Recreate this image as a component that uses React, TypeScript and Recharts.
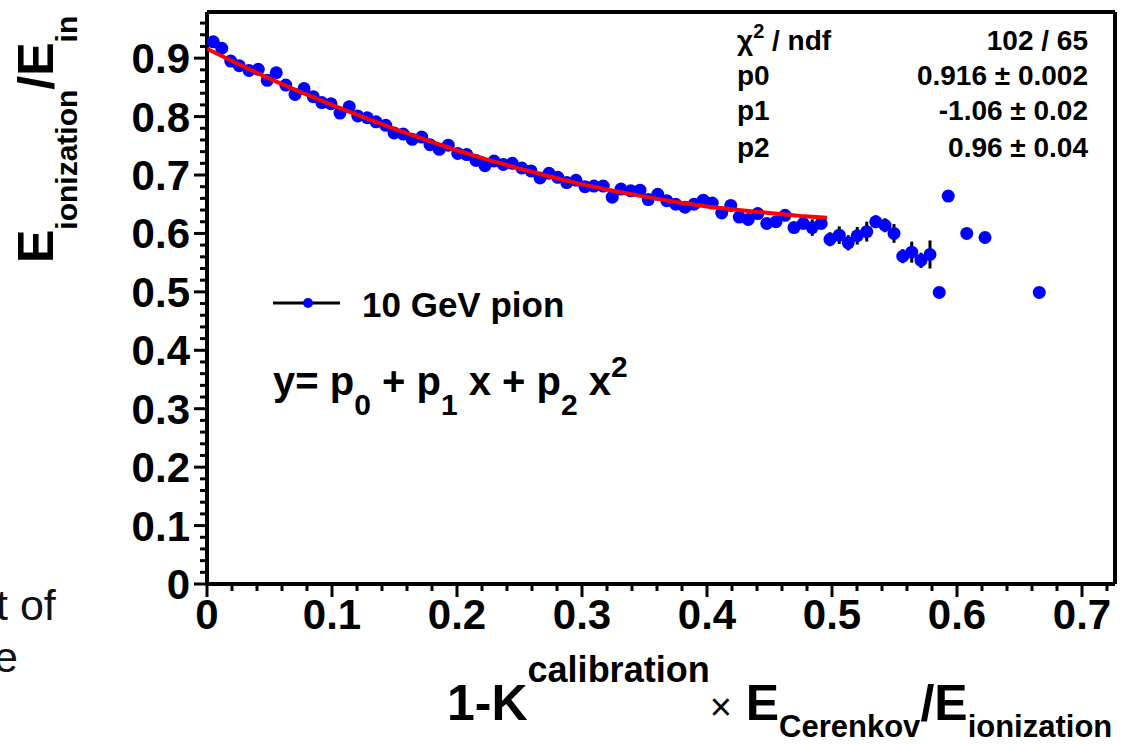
import React from 'react';
import {
  ComposedChart, Scatter, XAxis, YAxis, ErrorBar, ReferenceLine
} from 'recharts';

// measured points: x = 1-K*Ec/Ei, y = Eion/Ein
const pointX = [
  0.0050, 0.0118, 0.0190, 0.0258, 0.0336, 0.0410, 0.0482, 0.0554, 0.0630, 0.0704,
  0.0776, 0.0850, 0.0918, 0.0992, 0.1064, 0.1138, 0.1206, 0.1282, 0.1352, 0.1430,
  0.1496, 0.1570, 0.1642, 0.1718, 0.1784, 0.1858, 0.1930, 0.2006, 0.2078, 0.2152,
  0.2224, 0.2296, 0.2370, 0.2442, 0.2518, 0.2592, 0.2664, 0.2736, 0.2806, 0.2878,
  0.2952, 0.3024, 0.3096, 0.3170, 0.3242, 0.3312, 0.3390, 0.3464, 0.3530, 0.3606,
  0.3678, 0.3750, 0.3824, 0.3896, 0.3970, 0.4042, 0.4118, 0.4190, 0.4258, 0.4330,
  0.4406, 0.4478, 0.4552, 0.4624, 0.4696, 0.4770, 0.4842, 0.4914, 0.4984, 0.5058,
  0.5130, 0.5202, 0.5278, 0.5350, 0.5424, 0.5496, 0.5566, 0.5638, 0.5712, 0.5784,
  0.5858, 0.5930, 0.6078, 0.6224, 0.6658,
];
const pointY = [
  0.928, 0.917, 0.895, 0.887, 0.879, 0.881, 0.862, 0.875, 0.854, 0.838,
  0.848, 0.834, 0.824, 0.822, 0.806, 0.817, 0.801, 0.798, 0.791, 0.785,
  0.772, 0.770, 0.761, 0.765, 0.752, 0.744, 0.751, 0.737, 0.735, 0.725,
  0.716, 0.724, 0.718, 0.720, 0.712, 0.707, 0.695, 0.703, 0.696, 0.687,
  0.691, 0.680, 0.681, 0.681, 0.662, 0.676, 0.673, 0.674, 0.658, 0.667,
  0.656, 0.650, 0.645, 0.650, 0.657, 0.652, 0.635, 0.648, 0.628, 0.624,
  0.634, 0.617, 0.620, 0.631, 0.610, 0.617, 0.610, 0.617, 0.590, 0.597,
  0.584, 0.596, 0.603, 0.620, 0.614, 0.600, 0.561, 0.568, 0.554, 0.564,
  0.499, 0.664, 0.600, 0.593, 0.499,
];
const pointErr = [
  0.006, 0.006, 0.006, 0.006, 0.006, 0.006, 0.006, 0.006, 0.006, 0.006,
  0.006, 0.006, 0.006, 0.006, 0.006, 0.006, 0.006, 0.006, 0.006, 0.006,
  0.006, 0.006, 0.006, 0.006, 0.006, 0.006, 0.006, 0.006, 0.006, 0.006,
  0.006, 0.006, 0.006, 0.006, 0.006, 0.006, 0.006, 0.006, 0.006, 0.006,
  0.006, 0.006, 0.006, 0.006, 0.006, 0.006, 0.006, 0.006, 0.006, 0.006,
  0.006, 0.006, 0.006, 0.006, 0.006, 0.006, 0.006, 0.006, 0.006, 0.006,
  0.006, 0.006, 0.006, 0.006, 0.006, 0.006, 0.014, 0.008, 0.012, 0.015,
  0.013, 0.015, 0.017, 0.011, 0.012, 0.016, 0.012, 0.018, 0.013, 0.024,
  0, 0, 0, 0, 0,
];

// pol2 fit curve
const fitX = [
  0, 0.025, 0.05, 0.075, 0.1, 0.125, 0.15, 0.175, 0.2, 0.225, 0.25,
  0.275, 0.3, 0.325, 0.35, 0.375, 0.4, 0.425, 0.45, 0.475, 0.496,
];
const fitY = [
  0.916, 0.890, 0.865, 0.842, 0.820, 0.799, 0.779, 0.760, 0.742, 0.726, 0.711,
  0.697, 0.684, 0.673, 0.663, 0.654, 0.646, 0.640, 0.635, 0.630, 0.627,
];

const xMajor = [0, 0.1, 0.2, 0.3, 0.4, 0.5, 0.6, 0.7];
const yMajor = [0, 0.1, 0.2, 0.3, 0.4, 0.5, 0.6, 0.7, 0.8, 0.9];

const statLabels = ['ndf', 'p0', 'p1', 'p2'];
const statValues = ['102 / 65', '0.916 \u00b1 0.002', '-1.06 \u00b1 0.02', '0.96 \u00b1 0.04'];

const legendLabel = '10 GeV pion';

const X_MAX = 0.7264;
const Y_MAX = 0.979;
const FONT = '"Liberation Sans", Arial, Helvetica, sans-serif';

const xTicks = Array.from({ length: 37 }, (_, i) => +(i * 0.02).toFixed(2));
const yTicks = Array.from({ length: 49 }, (_, i) => +(i * 0.02).toFixed(2));

const points = pointX.map((x, i) => ({ x, y: pointY[i], err: pointErr[i] }));
const fit = fitX.map((x, i) => ({ x, y: fitY[i] }));

const XTick = (props: any) => {
  const { x, y, payload } = props;
  const major = xMajor.includes(payload.value);
  return (
    <g>
      <line x1={x} x2={x} y1={y} y2={y + (major ? 13 : 7)} stroke="#000" strokeWidth={3} />
      {major && (
        <text x={x} y={y + 45} textAnchor="middle" fontFamily={FONT} fontWeight="bold" fontSize={42} fill="#000">
          {String(payload.value)}
        </text>
      )}
    </g>
  );
};

const YTick = (props: any) => {
  const { x, y, payload } = props;
  const major = yMajor.includes(payload.value);
  return (
    <g>
      <line x1={x - (major ? 13 : 7)} x2={x} y1={y} y2={y} stroke="#000" strokeWidth={3} />
      {major && (
        <text x={x - 17} y={y + 15} textAnchor="end" fontFamily={FONT} fontWeight="bold" fontSize={42} fill="#000">
          {String(payload.value)}
        </text>
      )}
    </g>
  );
};

const Dot = (p: any) => <circle cx={p.cx} cy={p.cy} r={6.5} fill="#0000ff" />;
const NoDot = () => <g />;

const statRows = [50, 85, 120, 157];

export default function App() {
  return (
    <div style={{ position: 'absolute', left: 0, top: 0, width: 1128, height: 745, background: '#fff' }}>
      <ComposedChart
        width={1128}
        height={745}
        margin={{ top: 12, right: 13, bottom: 0, left: 0 }}
      >
        <XAxis
          type="number"
          dataKey="x"
          domain={[0, X_MAX]}
          ticks={xTicks}
          allowDataOverflow
          height={161}
          tickSize={0}
          tickMargin={0}
          tickLine={false}
          tick={XTick}
          interval={0}
          axisLine={{ stroke: '#000', strokeWidth: 4 }}
        />
        <YAxis
          type="number"
          dataKey="y"
          domain={[0, Y_MAX]}
          ticks={yTicks}
          allowDataOverflow
          width={207}
          tickSize={0}
          tickMargin={0}
          tickLine={false}
          tick={YTick}
          interval={0}
          axisLine={{ stroke: '#000', strokeWidth: 4 }}
        />
        <ReferenceLine y={Y_MAX} stroke="#000" strokeWidth={4} ifOverflow="visible" />
        <ReferenceLine x={X_MAX} stroke="#000" strokeWidth={4} ifOverflow="visible" />
        <Scatter data={points} dataKey="y" fill="#0000ff" shape={Dot} isAnimationActive={false}>
          <ErrorBar dataKey="err" direction="y" width={0} stroke="#000" strokeWidth={3} />
        </Scatter>
        {/* fit drawn as a scatter line so it sits above the points */}
        <Scatter
          data={fit}
          dataKey="y"
          line={{ stroke: '#ff0000', strokeWidth: 4 }}
          lineType="joint"
          shape={NoDot}
          isAnimationActive={false}
        />
      </ComposedChart>

      <svg
        width={1128}
        height={745}
        style={{ position: 'absolute', left: 0, top: 0, pointerEvents: 'none' }}
        fontFamily={FONT}
      >
        {/* y axis title */}
        <text transform="translate(53,263) rotate(-90)" fontSize={50} fontWeight="bold" fill="#000">
          E<tspan fontSize={30} dy={24}>ionization</tspan>
          <tspan fontSize={50} dy={-24}>/E</tspan>
          <tspan fontSize={30} dy={24}>in</tspan>
        </text>

        {/* x axis title */}
        <text x={447} y={720} fontSize={50} fontWeight="bold" fill="#000">
          1-K<tspan fontSize={36} dy={-38}>calibration</tspan>
          <tspan fontSize={38} fontWeight="normal" dy={38}>{'\u00d7'}</tspan>
          <tspan fontSize={50}> E</tspan>
          <tspan fontSize={31} dy={17}>Cerenkov</tspan>
          <tspan fontSize={50} dy={-17}>/E</tspan>
          <tspan fontSize={31} dy={17}>ionization</tspan>
        </text>

        {/* fit statistics */}
        {statLabels.map((lab, i) => (
          <g key={lab}>
            <text x={737} y={statRows[i]} fontSize={28} fontWeight="bold" fill="#000">
              {i === 0 ? (
                <>
                  {'\u03c7'}<tspan fontSize={20} dy={-12}>2</tspan>
                  <tspan dy={12}>{' / ' + lab}</tspan>
                </>
              ) : lab}
            </text>
            <text x={1088} y={statRows[i]} textAnchor="end" fontSize={28} fontWeight="bold" fill="#000">
              {statValues[i]}
            </text>
          </g>
        ))}

        {/* legend */}
        <line x1={273} x2={340} y1={303} y2={303} stroke="#000" strokeWidth={3} />
        <circle cx={308} cy={303} r={5} fill="#0000ff" />
        <text x={362} y={317} fontSize={35} fontWeight="bold" fill="#000">{legendLabel}</text>

        {/* fit function */}
        <text x={273} y={395} fontSize={40} fontWeight="bold" fill="#000">
          y= p<tspan fontSize={30} dy={20}>0</tspan>
          <tspan fontSize={40} dy={-20}> + p</tspan>
          <tspan fontSize={30} dy={20}>1</tspan>
          <tspan fontSize={40} dy={-20}> x + p</tspan>
          <tspan fontSize={30} dy={20}>2</tspan>
          <tspan fontSize={40} dy={-20}> x</tspan>
          <tspan fontSize={30} dy={-18}>2</tspan>
        </text>

        {/* text of the neighbouring page column, cut off */}
        <text x={-4} y={620} fontSize={43} fill="#111">t of</text>
        <text x={-6} y={672} fontSize={43} fill="#111">e</text>
      </svg>
    </div>
  );
}
